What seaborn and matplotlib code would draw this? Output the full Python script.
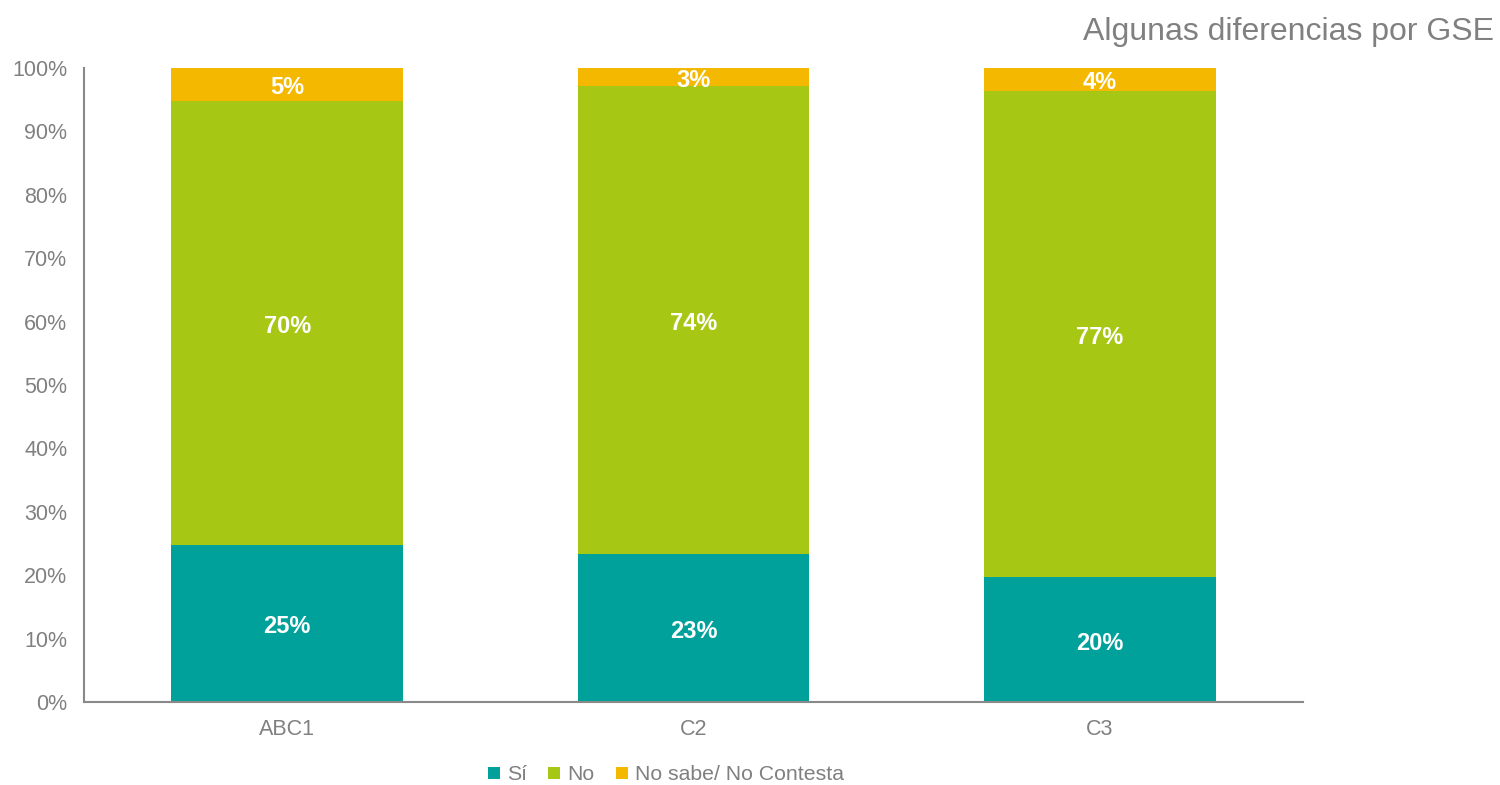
import matplotlib
matplotlib.use("Agg")
import matplotlib.pyplot as plt
from matplotlib.patches import Patch
import numpy as np
import pandas as pd
import seaborn as sns

sns.set_style("white")
plt.rcParams['font.family'] = ['Liberation Sans', 'DejaVu Sans']

# data (share of respondents per GSE group)
groups = ["ABC1", "C2", "C3"]
si = [24.8, 23.4, 19.7]
no = [70.0, 73.8, 76.7]
ns_nc = [5.2, 2.8, 3.6]
series_names = ["Sí", "No", "No sabe/ No Contesta"]
colors = ["#00A19A", "#A7C715", "#F4B800"]
TEXT_GRAY = "#808080"
SPINE_GRAY = "#898989"

df = pd.DataFrame({"group": groups, "si": si, "no": no, "ns": ns_nc})
df["cum_si"] = df.si
df["cum_no"] = df.si + df.no
df["cum_ns"] = df.si + df.no + df.ns

fig = plt.figure(figsize=(15, 7.85), dpi=100)
ax = fig.add_axes([0.056, 0.1057, 0.8127, 0.8077])

# stacked bars drawn as overlapping cumulative totals
for col, color in zip(["cum_ns", "cum_no", "cum_si"], colors[::-1]):
    sns.barplot(data=df, x="group", y=col, order=groups, color=color,
                width=0.57, linewidth=0, saturation=1, ax=ax)

for i, row in df.iterrows():
    bottoms = [0, row.si, row.si + row.no]
    for b, v in zip(bottoms, [row.si, row.no, row.ns]):
        ax.annotate(f"{v:.0f}%", xy=(i, b + v / 2), xytext=(0, -2.5),
                    textcoords="offset points", ha="center", va="center",
                    color="white", fontsize=17, fontweight="bold")

ax.set_xlim(-0.5, 2.5)
ax.set_ylim(0, 100)
ax.set_yticks(np.arange(0, 101, 10))
ax.set_yticklabels([f"{t}%" for t in range(0, 101, 10)])
ax.set_xlabel("")
ax.set_ylabel("")
ax.tick_params(axis="both", length=0, labelsize=15.5, colors=TEXT_GRAY)
ax.tick_params(axis="y", pad=12)
ax.tick_params(axis="x", pad=12)
sns.despine(ax=ax)
for side in ["left", "bottom"]:
    ax.spines[side].set_color(SPINE_GRAY)
    ax.spines[side].set_linewidth(1.5)

fig.text(0.996, 1 - 32 / 785, "Algunas diferencias por GSE", ha="right",
         va="center", fontsize=23, color=TEXT_GRAY)

handles = [Patch(facecolor=c, edgecolor="none", label=n)
           for c, n in zip(colors, series_names)]
fig.legend(handles=handles, loc="center", bbox_to_anchor=(0.444, 1 - 775 / 785),
           ncol=3, frameon=False, fontsize=15.3, labelcolor=TEXT_GRAY,
           handlelength=0.55, handleheight=0.55, handletextpad=0.35,
           columnspacing=1.0)

fig.savefig("out.png", dpi=100)
